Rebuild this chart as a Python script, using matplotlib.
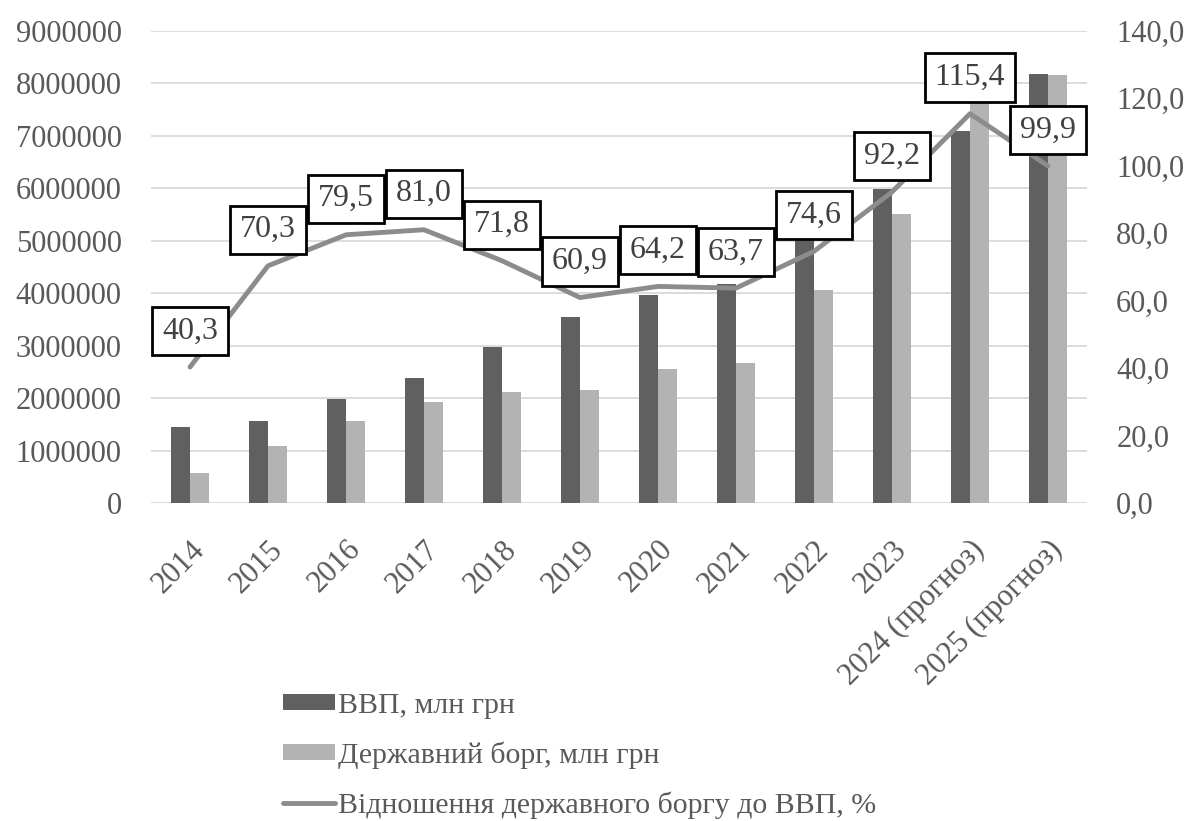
import matplotlib
matplotlib.use("Agg")
import matplotlib.pyplot as plt
import numpy as np
from matplotlib.ticker import FuncFormatter, MultipleLocator

plt.rcParams['font.family'] = ['Liberation Serif', 'DejaVu Serif']

categories = ["2014", "2015", "2016", "2017", "2018", "2019", "2020", "2021",
              "2022", "2023", "2024 (прогноз)", "2025 (прогноз)"]
gdp = [1450000, 1557000, 1977000, 2383000, 2974000, 3546000, 3960000, 4180000,
       5080000, 5980000, 7087000, 8170000]
debt = [578000, 1093000, 1557000, 1920000, 2122000, 2160000, 2549000, 2663000,
        4060000, 5516000, 8180000, 8160000]
ratio = [40.3, 70.3, 79.5, 81.0, 71.8, 60.9, 64.2, 63.7, 74.6, 92.2, 115.4, 99.9]

label_gdp = "ВВП, млн грн"
label_debt = "Державний борг, млн грн"
label_ratio = "Відношення державного боргу до ВВП, %"

c_dark = "#606060"
c_light = "#b3b3b3"
c_line = "#8c8c8c"
c_text = "#595959"

fig = plt.figure(figsize=(11.89, 8.21), dpi=100)
ax = fig.add_axes([151/1189, 1 - 503/821, (1087-151)/1189, (503-30.7)/821])
x = np.arange(len(categories))
w = 0.24
b1 = ax.bar(x - w/2, gdp, width=w, color=c_dark, label=label_gdp, zorder=2)
b2 = ax.bar(x + w/2, debt, width=w, color=c_light, label=label_debt, zorder=2)
ax.set_xlim(-0.5, len(categories) - 0.5)
ax.set_ylim(0, 9000000)
ax.yaxis.set_major_locator(MultipleLocator(1000000))
ax.yaxis.set_major_formatter(FuncFormatter(lambda v, p: f"{int(round(v))}"))
ax.grid(axis='y', color="#d9d9d9", linewidth=1.3, zorder=0)
ax.set_axisbelow(True)
for s in ax.spines.values():
    s.set_visible(False)
ax.tick_params(axis='both', length=0, labelsize=22, labelcolor=c_text)
ax.tick_params(axis='y', pad=21)
ax.set_xticks(x)
ax.set_xticklabels(categories, rotation=45, ha='right', rotation_mode='anchor')
ax.tick_params(axis='x', pad=23)

ax2 = ax.twinx()
ax2.set_ylim(0, 140)
ax2.yaxis.set_major_locator(MultipleLocator(20))
ax2.yaxis.set_major_formatter(FuncFormatter(lambda v, p: f"{v:.1f}".replace('.', ',')))
for s in ax2.spines.values():
    s.set_visible(False)
ax2.tick_params(axis='y', length=0, labelsize=22, labelcolor=c_text, pad=21)
ln, = ax2.plot(x, ratio, color=c_line, linewidth=3.5, solid_capstyle='round',
               label=label_ratio, zorder=3)
for xi, r in zip(x, ratio):
    ax2.annotate(f"{r:.1f}".replace('.', ','), (xi, r), xytext=(0, 26),
                 textcoords='offset points', ha='center', va='center',
                 fontsize=23, color="#404040", zorder=5,
                 bbox=dict(boxstyle='square,pad=0.3', fc='white', ec='black', lw=2))

fig.legend([b1, b2, ln], [label_gdp, label_debt, label_ratio],
           loc='upper left', bbox_to_anchor=(283/1189, 1 - 693/821),
           frameon=False, fontsize=21.5, labelcolor=c_text, borderpad=0,
           handlelength=1.75, handleheight=0.45, handletextpad=0.1,
           labelspacing=0.75, borderaxespad=0)

fig.savefig("out.png", dpi=100)
